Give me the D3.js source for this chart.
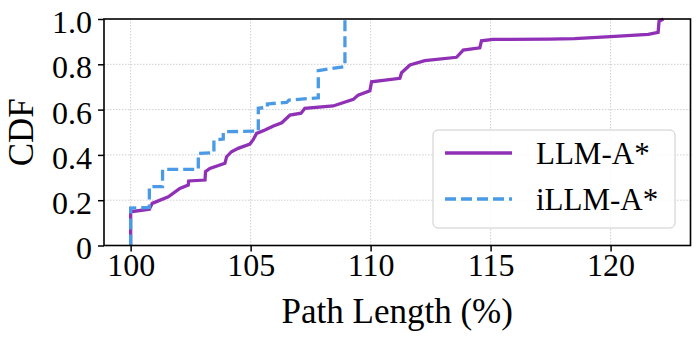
<!DOCTYPE html>
<html>
<head>
<meta charset="utf-8">
<script src="https://cdn.jsdelivr.net/npm/d3@7"></script>
<style>
  html, body { margin: 0; padding: 0; background: #fff; }
  svg { display: block; }
</style>
</head>
<body>
<svg id="chart" width="698" height="338"></svg>
<script>
// ---- data ----
const seriesNames = ["LLM-A*", "iLLM-A*"];
const llmX = [100, 100, 100.78, 100.9, 101.57, 102.05, 102.4, 102.42, 103.1, 103.12, 103.3, 103.93, 104.0, 104.2, 104.48, 104.97, 105.1, 105.25, 105.6, 105.95, 106.3, 106.64, 107.1, 107.26, 108.44, 109.28, 109.48, 109.97, 110.04, 111.22, 111.29, 111.64, 112.26, 113.58, 113.86, 114.55, 114.62, 115.1, 117.47, 118.5, 120.0, 121.57, 121.98, 122.02, 122.2];
const llmY = [0, 0.149, 0.16, 0.186, 0.215, 0.252, 0.267, 0.285, 0.289, 0.326, 0.34, 0.363, 0.392, 0.414, 0.429, 0.448, 0.466, 0.495, 0.51, 0.528, 0.542, 0.576, 0.584, 0.606, 0.616, 0.645, 0.664, 0.683, 0.723, 0.738, 0.763, 0.797, 0.816, 0.831, 0.863, 0.873, 0.904, 0.91, 0.911, 0.913, 0.922, 0.932, 0.941, 0.99, 1.0];
const illmX = [100, 100, 100.78, 100.78, 101.33, 101.33, 102.82, 102.82, 103.47, 103.47, 103.86, 103.86, 105.32, 105.32, 105.7, 105.7, 106.5, 106.6, 107.82, 107.82, 108.93, 108.93];
const illmY = [0, 0.165, 0.168, 0.26, 0.26, 0.336, 0.336, 0.407, 0.41, 0.466, 0.47, 0.502, 0.505, 0.606, 0.61, 0.625, 0.632, 0.642, 0.652, 0.772, 0.79, 1.0];
const xTicks = [100, 105, 110, 115, 120];
const yTicks = [0, 0.2, 0.4, 0.6, 0.8, 1.0];
const yTickLabels = ["0", "0.2", "0.4", "0.6", "0.8", "1.0"];
const xLabel = "Path Length (%)";
const yLabel = "CDF";
const colors = ["#9030b6", "#4a9ae6"];

// ---- layout ----
const svg = d3.select("#chart");
const L = 104, R = 690.5, T = 19, B = 245.5;
const font = "'Liberation Serif', 'Times New Roman', serif";

const x = d3.scaleLinear().domain([98.89, 123.33]).range([L, R]);
const y = d3.scaleLinear().domain([0, 1]).range([B, T]);

// grid
const grid = svg.append("g").attr("stroke", "#cfcfcf").attr("stroke-width", 1).attr("stroke-dasharray", "1.5,1.5");
xTicks.forEach(v => grid.append("line").attr("x1", x(v)).attr("x2", x(v)).attr("y1", T).attr("y2", B));
yTicks.slice(1, -1).forEach(v => grid.append("line").attr("x1", L).attr("x2", R).attr("y1", y(v)).attr("y2", y(v)));

// lines
const line = d3.line().x(d => x(d[0])).y(d => y(d[1]));
const llmData = llmX.map((v, i) => [v, llmY[i]]);
const illmData = illmX.map((v, i) => [v, illmY[i]]);

svg.append("path").datum(llmData).attr("d", line)
  .attr("fill", "none").attr("stroke", colors[0]).attr("stroke-width", 3.3);
svg.append("path").datum(illmData).attr("d", line)
  .attr("fill", "none").attr("stroke", colors[1]).attr("stroke-width", 3.3)
  .attr("stroke-dasharray", "11,5");

// axes
const xAxis = d3.axisBottom(x).tickValues(xTicks).tickSize(6).tickPadding(1.5).tickFormat(d3.format("d"));
const yAxis = d3.axisLeft(y).tickValues(yTicks).tickSize(6).tickPadding(6).tickFormat((d, i) => yTickLabels[i]);

const gx = svg.append("g").attr("transform", `translate(0,${B})`).call(xAxis);
const gy = svg.append("g").attr("transform", `translate(${L},0)`).call(yAxis);
[gx, gy].forEach(g => {
  g.attr("font-family", font);
  g.select(".domain").remove();
  g.selectAll(".tick line").attr("stroke", "#000").attr("stroke-width", 1.5);
  g.selectAll(".tick text").attr("font-family", font).attr("font-size", 32).attr("fill", "#000");
});
gx.selectAll(".tick text").attr("dy", "0.71em");
gy.selectAll(".tick text").attr("dy", "0.42em");

// frame
svg.append("rect").attr("x", L).attr("y", T).attr("width", R - L).attr("height", B - T)
  .attr("fill", "none").attr("stroke", "#000").attr("stroke-width", 1.6);

// labels
svg.append("text").attr("x", (L + R) / 2).attr("y", 323).attr("text-anchor", "middle")
  .attr("font-family", font).attr("font-size", 35).text(xLabel);
svg.append("text").attr("transform", `translate(33,${(T + B) / 2}) rotate(-90)`).attr("text-anchor", "middle")
  .attr("font-family", font).attr("font-size", 35).text(yLabel);

// legend
const lg = svg.append("g");
lg.append("rect").attr("x", 433).attr("y", 130).attr("width", 242).attr("height", 98)
  .attr("rx", 5).attr("fill", "#fff").attr("fill-opacity", 0.85).attr("stroke", "#cccccc").attr("stroke-width", 1);
const legendRows = [{ y: 153, dash: null }, { y: 199, dash: "11,5" }];
seriesNames.forEach((name, i) => {
  const row = legendRows[i];
  const l = lg.append("line").attr("x1", 445).attr("x2", 512).attr("y1", row.y).attr("y2", row.y)
    .attr("stroke", colors[i]).attr("stroke-width", 3.3);
  if (row.dash) l.attr("stroke-dasharray", row.dash);
  lg.append("text").attr("x", 536).attr("y", row.y).attr("dy", "0.35em")
    .attr("font-family", font).attr("font-size", 31).text(name);
});
</script>
</body>
</html>
